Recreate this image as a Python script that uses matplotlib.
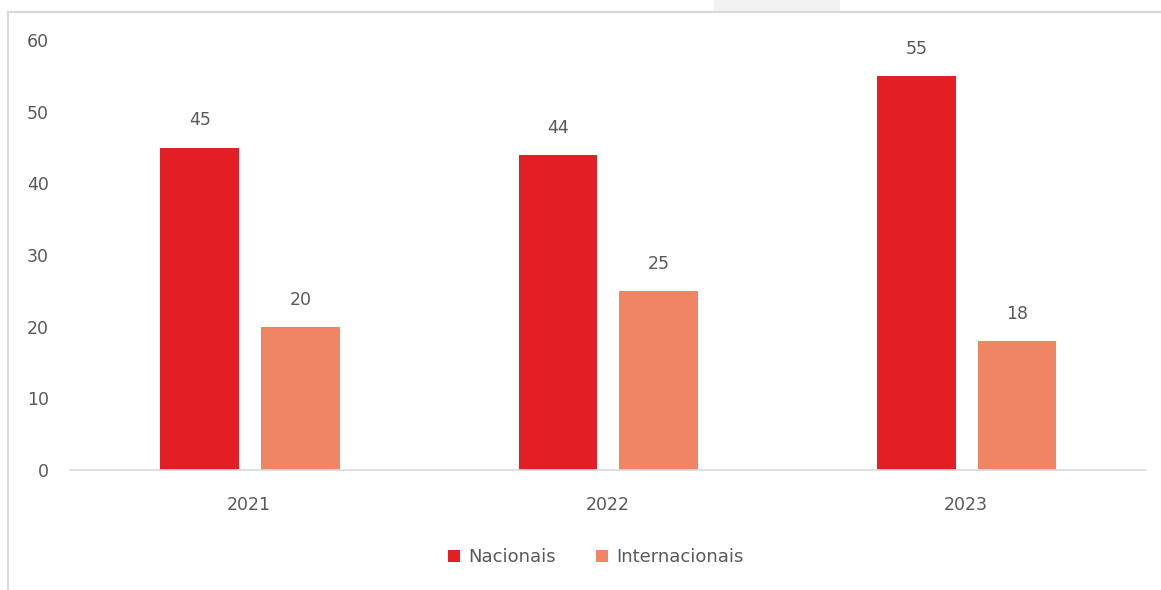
import matplotlib.pyplot as plt
import numpy as np
from matplotlib.lines import Line2D
from matplotlib.patches import Rectangle

anos = ['2021', '2022', '2023']
nacionais = [45, 44, 55]
internacionais = [20, 25, 18]

cor_nac = '#E31E24'
cor_int = '#F08566'
cinza = '#595959'
tam = 12.5

plt.rcParams['font.family'] = ['DejaVu Sans']

fig = plt.figure(figsize=(11.61, 5.90), dpi=100)
ax = fig.add_axes([70 / 1161, 1 - 470 / 590, 1075 / 1161, 430 / 590])

x = np.arange(len(anos))
largura = 0.22
desloc = 0.143

b1 = ax.bar(x - desloc + 0.005, nacionais, largura, color=cor_nac, label='Nacionais')
b2 = ax.bar(x + desloc, internacionais, largura, color=cor_int, label='Internacionais')

# rótulos de valor acima das barras
for barras, valores in [(b1, nacionais), (b2, internacionais)]:
    for b, v in zip(barras, valores):
        ax.annotate(str(v), (b.get_x() + b.get_width() / 2, v), xytext=(0, 13),
                    textcoords='offset points', ha='center', va='bottom',
                    fontsize=tam, color=cinza)

ax.set_xlim(-0.5, 2.5)
ax.set_ylim(0, 60)
ax.set_yticks(range(0, 61, 10))
ax.set_xticks(x)
ax.set_xticklabels(anos)
ax.tick_params(axis='both', length=0, labelsize=tam, labelcolor=cinza)
ax.tick_params(axis='y', pad=15)
ax.tick_params(axis='x', pad=19)

for lado in ['top', 'right', 'left']:
    ax.spines[lado].set_visible(False)
ax.spines['bottom'].set_color('#d9d9d9')
ax.spines['bottom'].set_linewidth(1.2)

ax.legend(loc='center', bbox_to_anchor=(596 / 1161, 1 - 557 / 590),
          bbox_transform=fig.transFigure, ncol=2, frameon=False,
          handlelength=0.65, handleheight=0.65, handletextpad=0.5,
          columnspacing=2.2, fontsize=13, labelcolor=cinza)

# moldura do gráfico e faixa cinza no topo
fig.add_artist(Line2D([8 / 1161, 8 / 1161], [0, 1 - 12 / 590], color='#d9d9d9', lw=1.5))
fig.add_artist(Line2D([8 / 1161, 1], [1 - 12 / 590, 1 - 12 / 590], color='#d9d9d9', lw=1.5))
fig.add_artist(Rectangle((714 / 1161, 1 - 11 / 590), 126 / 1161, 11 / 590,
                         color='#f2f2f2', transform=fig.transFigure, lw=0))

fig.savefig('out.png', dpi=100)
